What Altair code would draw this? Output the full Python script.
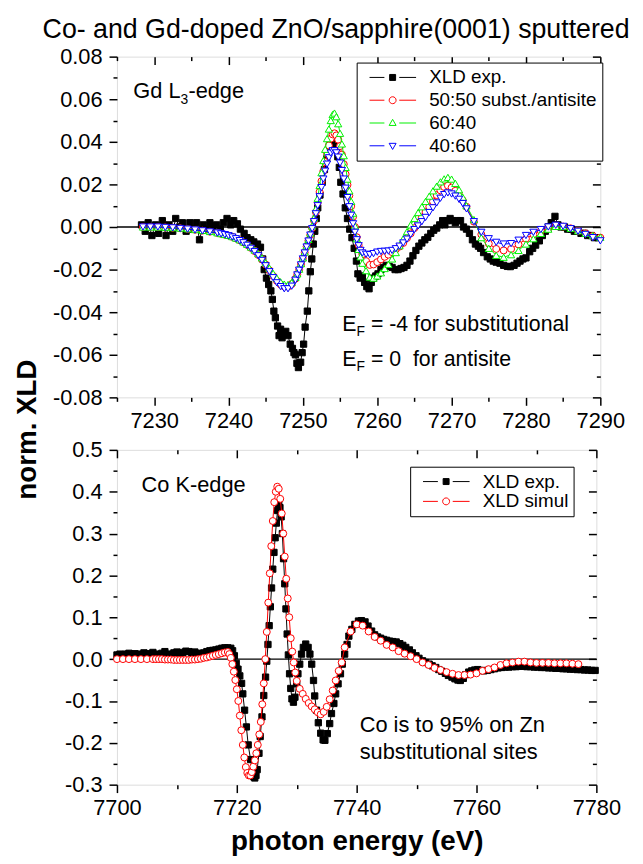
import altair as alt
import pandas as pd

FONT = "Liberation Sans"

# ---------------- Gd L3-edge (top panel) ----------------
gd_exp = [
    (7228.3, 0.001), (7228.8, -0.002), (7229.2, 0.002), (7229.7, -0.004), (7230.2, 0.001),
    (7230.6, -0.003), (7231.1, 0.003), (7231.6, -0.004), (7232.0, 0.001), (7232.5, -0.002),
    (7232.9, 0.004), (7233.4, 0.000), (7233.8, 0.002), (7234.3, -0.002), (7234.8, 0.002),
    (7235.2, -0.001), (7235.7, 0.002), (7236.1, -0.006), (7236.6, 0.001), (7237.0, -0.001),
    (7237.5, 0.002), (7237.9, 0.000), (7238.4, 0.001), (7238.9, -0.001), (7239.3, 0.002),
    (7239.8, 0.004), (7240.3, 0.001), (7240.7, 0.003), (7241.2, 0.0015), (7241.6, -0.001),
    (7242.1, -0.003), (7242.5, -0.005), (7243.0, -0.006), (7243.4, -0.007), (7243.9, -0.008),
    (7244.3, -0.0095), (7244.6, -0.015), (7244.8, -0.020), (7245.1, -0.024), (7245.4, -0.027),
    (7245.7, -0.030), (7245.9, -0.034), (7246.1, -0.0395), (7246.3, -0.0426), (7246.6, -0.0465),
    (7246.8, -0.051), (7247.0, -0.048), (7247.2, -0.052), (7247.5, -0.050), (7247.7, -0.049),
    (7248.0, -0.051), (7248.3, -0.055), (7248.6, -0.057), (7248.8, -0.059), (7249.0, -0.060),
    (7249.2, -0.064), (7249.4, -0.066), (7249.7, -0.0635), (7249.9, -0.059), (7250.1, -0.055),
    (7250.3, -0.047), (7250.6, -0.0395), (7250.8, -0.030), (7251.0, -0.021), (7251.2, -0.015),
    (7251.4, -0.008), (7251.6, -0.002), (7251.8, 0.004), (7252.0, 0.009), (7252.3, 0.015),
    (7252.6, 0.021), (7252.9, 0.027), (7253.2, 0.032), (7253.5, 0.036), (7253.8, 0.039),
    (7254.1, 0.040), (7254.4, 0.038), (7254.7, 0.033), (7254.9, 0.028), (7255.1, 0.021),
    (7255.4, 0.0155), (7255.7, 0.009), (7256.0, 0.004), (7256.3, -0.001), (7256.6, -0.005),
    (7256.9, -0.010), (7257.2, -0.016), (7257.4, -0.022), (7257.7, -0.024), (7258.0, -0.023),
    (7258.3, -0.026), (7258.6, -0.028), (7258.9, -0.029), (7259.2, -0.026), (7259.5, -0.024),
    (7259.8, -0.023), (7260.1, -0.022), (7260.5, -0.020), (7260.8, -0.019), (7261.2, -0.018),
    (7261.6, -0.0185), (7262.0, -0.019), (7262.4, -0.020), (7262.8, -0.020), (7263.2, -0.0195),
    (7263.6, -0.019), (7264.0, -0.018), (7264.4, -0.016), (7264.8, -0.0135), (7265.2, -0.011),
    (7265.6, -0.009), (7266.0, -0.0075), (7266.4, -0.006), (7266.8, -0.0048), (7267.2, -0.003),
    (7267.6, -0.0015), (7268.0, -0.0005), (7268.4, 0.001), (7268.8, 0.003), (7269.1, 0.001),
    (7269.4, 0.003), (7269.8, 0.004), (7270.1, 0.003), (7270.5, 0.002), (7270.8, 0.003),
    (7271.2, 0.003), (7271.6, 0.000), (7272.0, -0.001), (7272.4, -0.003), (7272.8, -0.006),
    (7273.2, -0.008), (7273.6, -0.009), (7273.9, -0.010), (7274.3, -0.012), (7274.8, -0.014),
    (7275.2, -0.015), (7275.6, -0.016), (7276.0, -0.0165), (7276.5, -0.017), (7277.0, -0.018),
    (7277.5, -0.0185), (7277.9, -0.0186), (7278.4, -0.018), (7278.8, -0.017), (7279.2, -0.016),
    (7279.6, -0.015), (7280.0, -0.0145), (7280.5, -0.0116), (7280.9, -0.010), (7281.3, -0.0085),
    (7281.8, -0.0065), (7282.2, -0.004), (7282.6, -0.002), (7283.0, 0.000), (7283.4, 0.002),
    (7283.9, 0.005), (7284.3, 0.001), (7284.7, 0.000), (7285.2, 0.000), (7285.6, -0.001),
    (7286.1, -0.001), (7286.5, -0.002), (7287.0, -0.002), (7287.4, -0.003), (7287.9, -0.003),
    (7288.3, -0.004), (7288.8, -0.004), (7289.2, -0.005), (7289.7, -0.005),
]

gd_sim_x = [
    7228.5, 7229.5, 7230.5, 7231.5, 7232.5, 7233.5, 7234.5, 7235.5, 7236.5, 7237.5, 7238.5,
    7239.0, 7239.5, 7240.0, 7240.5, 7241.0, 7241.5, 7242.0, 7242.5, 7243.0, 7243.5, 7244.0,
    7244.5, 7245.0, 7245.5, 7246.0, 7246.5, 7247.0, 7247.5, 7248.0, 7248.5, 7249.0,
    7249.25, 7249.5, 7249.75, 7250.0, 7250.25, 7250.5, 7250.75, 7251.0, 7251.25, 7251.5,
    7251.75, 7252.0, 7252.25, 7252.5, 7252.75, 7253.0, 7253.25, 7253.5, 7253.75, 7254.0,
    7254.25, 7254.5, 7254.75, 7255.0, 7255.25, 7255.5, 7255.75, 7256.0, 7256.25, 7256.5,
    7256.75, 7257.0, 7257.25, 7257.5, 7257.75, 7258.0,
    7258.5, 7259.0, 7259.5, 7260.0, 7260.5, 7261.0, 7261.5, 7262.0, 7262.5, 7263.0, 7263.5,
    7264.0, 7264.5, 7265.0, 7265.5, 7266.0, 7266.5, 7267.0, 7267.5, 7268.0, 7268.5, 7269.0,
    7269.5, 7270.0, 7270.5, 7271.0, 7271.5, 7272.0,
    7273, 7274, 7275, 7276, 7277, 7278, 7279, 7280, 7281, 7282, 7283, 7284, 7285, 7286,
    7287, 7288, 7289, 7290,
]

gd_sim_5050 = [
    0.0, 0.0, 0.0, -0.0002, -0.0004, -0.0006, -0.0009, -0.0013, -0.0017, -0.0022, -0.0028,
    -0.0032, -0.0036, -0.0040, -0.0046, -0.0054, -0.0062, -0.0072, -0.0084, -0.0098, -0.0113,
    -0.0131, -0.0152, -0.0176, -0.0203, -0.0230, -0.0253, -0.0270, -0.0280, -0.0280, -0.0268, -0.0243,
    -0.0222, -0.0200, -0.0175, -0.0148, -0.0120, -0.0092, -0.0064, -0.0036, -0.0005, 0.0030,
    0.0070, 0.0115, 0.0165, 0.0215, 0.0262, 0.0305, 0.0345, 0.0383, 0.0415, 0.0435,
    0.0440, 0.0430, 0.0410, 0.0380, 0.0340, 0.0295, 0.0248, 0.0198, 0.0148, 0.0098,
    0.0048, 0.0000, -0.0048, -0.0085, -0.0108, -0.0128,
    -0.0160, -0.0178, -0.0176, -0.0165, -0.0152, -0.0140, -0.0130, -0.0118, -0.0105, -0.0092, -0.0075,
    -0.0052, -0.0030, -0.0005, 0.0020, 0.0045, 0.0070, 0.0095, 0.0120, 0.0150, 0.0172, 0.0188,
    0.0194, 0.0185, 0.0170, 0.0150, 0.0125, 0.0095,
    0.0025, -0.0035, -0.0078, -0.0103, -0.0110, -0.0103, -0.0082, -0.0055, -0.0035, -0.0018,
    -0.0005, 0.0005, 0.0002, -0.0006, -0.0018, -0.0030, -0.0042, -0.0050,
]

gd_sim_6040 = [
    0.0, 0.0, 0.0, -0.0001, -0.0003, -0.0005, -0.0008, -0.0012, -0.0016, -0.0021, -0.0027,
    -0.0031, -0.0035, -0.0039, -0.0045, -0.0052, -0.0060, -0.0070, -0.0081, -0.0094, -0.0108,
    -0.0125, -0.0145, -0.0168, -0.0193, -0.0218, -0.0240, -0.0257, -0.0268, -0.0270, -0.0260, -0.0237,
    -0.0220, -0.0198, -0.0172, -0.0145, -0.0117, -0.0088, -0.0058, -0.0028, 0.0005, 0.0042,
    0.0085, 0.0135, 0.0195, 0.0255, 0.0312, 0.0365, 0.0415, 0.0460, 0.0500, 0.0528,
    0.0535, 0.0518, 0.0485, 0.0440, 0.0390, 0.0335, 0.0280, 0.0225, 0.0170, 0.0120,
    0.0065, 0.0005, -0.0055, -0.0105, -0.0140, -0.0170,
    -0.0205, -0.0235, -0.0240, -0.0230, -0.0215, -0.0195, -0.0175, -0.0150, -0.0120, -0.0088, -0.0055,
    -0.0022, 0.0010, 0.0040, 0.0068, 0.0095, 0.0120, 0.0145, 0.0170, 0.0192, 0.0212, 0.0226,
    0.0233, 0.0225, 0.0205, 0.0175, 0.0140, 0.0100,
    0.0035, -0.0050, -0.0100, -0.0133, -0.0142, -0.0130, -0.0110, -0.0080, -0.0055, -0.0030,
    -0.0010, 0.0003, 0.0002, -0.0006, -0.0018, -0.0030, -0.0040, -0.0048,
]

gd_sim_4060 = [
    0.0, 0.0, 0.0, -0.0002, -0.0004, -0.0007, -0.0010, -0.0014, -0.0018, -0.0023, -0.0028,
    -0.0032, -0.0036, -0.0041, -0.0047, -0.0055, -0.0064, -0.0074, -0.0086, -0.0100, -0.0116,
    -0.0135, -0.0157, -0.0182, -0.0210, -0.0238, -0.0262, -0.0280, -0.0290, -0.0290, -0.0278, -0.0250,
    -0.0225, -0.0203, -0.0178, -0.0150, -0.0122, -0.0094, -0.0066, -0.0038, -0.0008, 0.0025,
    0.0062, 0.0100, 0.0142, 0.0185, 0.0225, 0.0262, 0.0295, 0.0325, 0.0347, 0.0358,
    0.0358, 0.0348, 0.0328, 0.0300, 0.0265, 0.0225, 0.0182, 0.0138, 0.0095, 0.0055,
    0.0015, -0.0025, -0.0060, -0.0088, -0.0110, -0.0122,
    -0.0128, -0.0130, -0.0125, -0.0118, -0.0115, -0.0114, -0.0113, -0.0110, -0.0102, -0.0090, -0.0075,
    -0.0057, -0.0035, -0.0012, 0.0005, 0.0025, 0.0045, 0.0068, 0.0090, 0.0113, 0.0135, 0.0152,
    0.0160, 0.0155, 0.0145, 0.0130, 0.0110, 0.0085,
    0.0025, -0.0025, -0.0055, -0.0072, -0.0080, -0.0078, -0.0062, -0.0040, -0.0025, -0.0012,
    0.0000, 0.0008, 0.0003, -0.0008, -0.0020, -0.0035, -0.0050, -0.0065,
]

gd_series = ["XLD exp.", "50:50 subst./antisite", "60:40", "40:60"]

# ---------------- Co K-edge (bottom panel) ----------------
co_exp = [
    (7700.0, 0.010), (7700.5, 0.012), (7701.0, 0.008), (7701.5, 0.012), (7702.0, 0.014),
    (7702.5, 0.010), (7703.0, 0.013), (7703.5, 0.009), (7704.0, 0.012), (7704.5, 0.015),
    (7705.0, 0.011), (7705.5, 0.013), (7706.0, 0.016), (7706.5, 0.012), (7707.0, 0.010),
    (7707.5, 0.014), (7708.0, 0.018), (7708.5, 0.012), (7709.0, 0.011), (7709.5, 0.015),
    (7710.0, 0.017), (7710.5, 0.013), (7711.0, 0.016), (7711.5, 0.019), (7712.0, 0.018),
    (7712.5, 0.015), (7713.0, 0.017), (7713.5, 0.014), (7714.0, 0.012), (7714.5, 0.015),
    (7715.0, 0.018), (7715.5, 0.020), (7716.0, 0.021), (7716.5, 0.022), (7717.0, 0.024),
    (7717.5, 0.026), (7718.0, 0.027), (7718.5, 0.027), (7719.0, 0.026), (7719.3, 0.020),
    (7719.6, 0.008), (7719.9, -0.010), (7720.2, -0.024), (7720.5, -0.040), (7720.8, -0.058),
    (7721.0, -0.083), (7721.3, -0.122), (7721.6, -0.162), (7721.9, -0.205), (7722.3, -0.240),
    (7722.6, -0.270), (7722.8, -0.281), (7723.0, -0.284), (7723.2, -0.278), (7723.4, -0.264),
    (7723.7, -0.225), (7723.9, -0.185), (7724.2, -0.138), (7724.5, -0.087), (7724.8, -0.043),
    (7725.0, -0.005), (7725.2, 0.035), (7725.4, 0.080), (7725.6, 0.125), (7725.8, 0.170),
    (7726.0, 0.215), (7726.2, 0.255), (7726.4, 0.290), (7726.6, 0.325), (7726.8, 0.355),
    (7727.0, 0.371), (7727.2, 0.362), (7727.4, 0.340), (7727.6, 0.300), (7727.8, 0.240),
    (7728.0, 0.180), (7728.2, 0.120), (7728.4, 0.060), (7728.6, 0.010), (7728.8, -0.035),
    (7729.0, -0.070), (7729.2, -0.095), (7729.45, -0.103), (7729.7, -0.091), (7730.0, -0.059),
    (7730.2, -0.035), (7730.5, -0.012), (7730.8, 0.012), (7731.1, 0.028), (7731.5, 0.036),
    (7731.9, 0.028), (7732.2, 0.012), (7732.5, -0.012), (7732.8, -0.051), (7733.0, -0.088),
    (7733.3, -0.122), (7733.6, -0.152), (7734.0, -0.177), (7734.4, -0.193), (7734.7, -0.194),
    (7735.1, -0.178), (7735.5, -0.154), (7735.8, -0.130), (7736.2, -0.106), (7736.5, -0.083),
    (7736.9, -0.059), (7737.3, -0.035), (7737.6, -0.012), (7738.0, 0.012), (7738.4, 0.035),
    (7738.7, 0.055), (7739.2, 0.071), (7739.7, 0.083), (7740.3, 0.091), (7740.8, 0.092),
    (7741.4, 0.089), (7741.9, 0.079), (7742.5, 0.067), (7743.0, 0.058), (7743.5, 0.053),
    (7744.0, 0.050), (7744.5, 0.047), (7745.0, 0.045), (7745.5, 0.043), (7746.0, 0.042),
    (7746.6, 0.041), (7747.2, 0.037), (7747.7, 0.033), (7748.2, 0.028), (7748.8, 0.022),
    (7749.3, 0.015), (7749.9, 0.008), (7750.4, 0.002), (7751.0, -0.004), (7751.5, -0.008),
    (7752.1, -0.012), (7752.6, -0.016), (7753.2, -0.020), (7753.7, -0.025), (7754.2, -0.029),
    (7754.8, -0.034), (7755.3, -0.039), (7755.9, -0.043), (7756.4, -0.047), (7756.9, -0.050),
    (7757.3, -0.051), (7757.8, -0.046), (7758.2, -0.037), (7758.7, -0.031), (7759.2, -0.028),
    (7759.7, -0.026), (7760.2, -0.025), (7760.7, -0.027), (7761.2, -0.028), (7761.8, -0.027),
    (7762.4, -0.025), (7763.0, -0.023), (7763.6, -0.021), (7764.2, -0.020), (7764.8, -0.019),
    (7765.4, -0.019), (7766.0, -0.018), (7766.6, -0.018), (7767.2, -0.017), (7767.8, -0.017),
    (7768.4, -0.018), (7769.0, -0.018), (7769.6, -0.019), (7770.2, -0.019), (7770.8, -0.020),
    (7771.4, -0.020), (7772.0, -0.021), (7772.6, -0.021), (7773.2, -0.022), (7773.8, -0.022),
    (7774.4, -0.023), (7775.0, -0.023), (7775.6, -0.024), (7776.2, -0.024), (7776.8, -0.025),
    (7777.4, -0.025), (7778.0, -0.026), (7778.6, -0.026), (7779.2, -0.027), (7779.8, -0.027),
]

co_sim_x = [
    7700, 7701, 7702, 7703, 7704, 7705, 7706,
    7706.5, 7707.0, 7707.5, 7708.0, 7708.5, 7709.0, 7709.5, 7710.0, 7710.5, 7711.0, 7711.5,
    7712.0, 7712.5, 7713.0, 7713.5, 7714.0, 7714.5, 7715.0, 7715.5, 7716.0, 7716.5, 7717.0,
    7717.5, 7718.0, 7718.5,
    7718.75, 7719.0, 7719.25, 7719.5, 7719.75, 7720.0, 7720.25, 7720.5, 7720.75, 7721.0,
    7721.25, 7721.5, 7721.75, 7722.0, 7722.25, 7722.5, 7722.75, 7723.0, 7723.25, 7723.5,
    7723.75, 7724.0, 7724.25, 7724.5, 7724.75, 7725.0, 7725.25, 7725.5, 7725.75, 7726.0,
    7726.25, 7726.5, 7726.75, 7727.0, 7727.25, 7727.5, 7727.75, 7728.0, 7728.25, 7728.5,
    7728.75, 7729.0, 7729.25, 7729.5, 7729.75, 7730.0,
    7730.5, 7731.0, 7731.5, 7732.0, 7732.5, 7733.0, 7733.5, 7734.0, 7734.5, 7735.0, 7735.5,
    7736.0, 7736.5, 7737.0, 7737.5,
    7738, 7739, 7740, 7741, 7742, 7743, 7744, 7745, 7746, 7747, 7748, 7749, 7750, 7751,
    7752, 7753, 7754, 7755, 7756, 7757, 7758, 7759, 7760, 7761, 7762, 7763, 7764, 7765,
    7766, 7767, 7768, 7769, 7770, 7771, 7772, 7773, 7774, 7775, 7776, 7777,
]

co_sim_y = [
    0.0, 0.0, 0.0, 0.0, 0.0, 0.0, 0.0,
    0.0, 0.0, 0.0, -0.001, -0.001, -0.001, -0.002, -0.002, -0.002, -0.002, -0.002,
    -0.002, -0.001, -0.001, 0.0, 0.001, 0.003, 0.004, 0.006, 0.008, 0.010, 0.012,
    0.014, 0.016, 0.017,
    0.012, 0.003, -0.012, -0.030, -0.050, -0.072, -0.100, -0.135, -0.170, -0.205,
    -0.235, -0.258, -0.272, -0.278, -0.278, -0.270, -0.257, -0.242, -0.225, -0.205,
    -0.180, -0.150, -0.108, -0.058, 0.000, 0.065, 0.135, 0.205, 0.270, 0.330,
    0.375, 0.400, 0.412, 0.407, 0.383, 0.348, 0.300, 0.245, 0.192, 0.145,
    0.100, 0.050, 0.018, -0.008, -0.032, -0.052,
    -0.071, -0.083, -0.095, -0.105, -0.113, -0.120, -0.127, -0.132, -0.126, -0.114, -0.096,
    -0.075, -0.051, -0.028, -0.008,
    0.028, 0.066, 0.083, 0.080, 0.066, 0.053, 0.044, 0.034, 0.028, 0.019, 0.013, 0.007,
    0.000, -0.008, -0.014, -0.021, -0.026, -0.031, -0.035, -0.038, -0.038, -0.037, -0.034,
    -0.028, -0.024, -0.020, -0.014, -0.010, -0.008, -0.006, -0.006, -0.008, -0.009, -0.009,
    -0.009, -0.010, -0.010, -0.010, -0.011, -0.012,
]

co_series = ["XLD exp.", "XLD simul"]

# ---------------- axes ticks ----------------
gd_x_major = [7230, 7240, 7250, 7260, 7270, 7280, 7290]
gd_x_minor = [7225, 7235, 7245, 7255, 7265, 7275, 7285]
gd_y_major = [-0.08, -0.06, -0.04, -0.02, 0.0, 0.02, 0.04, 0.06, 0.08]
gd_y_minor = [-0.07, -0.05, -0.03, -0.01, 0.01, 0.03, 0.05, 0.07]
co_x_major = [7700, 7720, 7740, 7760, 7780]
co_x_minor = [7710, 7730, 7750, 7770]
co_y_major = [-0.3, -0.2, -0.1, 0.0, 0.1, 0.2, 0.3, 0.4, 0.5]
co_y_minor = [-0.25, -0.15, -0.05, 0.05, 0.15, 0.25, 0.35, 0.45]

# ---------------- data frames ----------------
gd_exp_df = pd.DataFrame(gd_exp, columns=["x", "y"])
gd_5050_df = pd.DataFrame({"x": gd_sim_x, "y": gd_sim_5050})
gd_6040_df = pd.DataFrame({"x": gd_sim_x, "y": gd_sim_6040})
gd_4060_df = pd.DataFrame({"x": gd_sim_x, "y": gd_sim_4060})
co_exp_df = pd.DataFrame(co_exp, columns=["x", "y"])
co_sim_df = pd.DataFrame({"x": co_sim_x, "y": co_sim_y})

ONE = alt.Data(values=[{}])
MINUS = "\u2212"
NBSP = "\u00a0"

RED, GREEN, BLUE = "#FF0000", "#00F000", "#0000FF"

# legend symbols: line - marker - line, in unit coordinates
LINE_PATH = "M-1,0H0.579M2.158,0H3.947"
SQUARE_PATH = LINE_PATH + "M1.137,-0.316H1.769V0.316H1.137Z"
CIRCLE_PATH = LINE_PATH + "M1.085,0A0.368,0.368,0,1,0,1.821,0A0.368,0.368,0,1,0,1.085,0Z"
TUP_PATH = LINE_PATH + "M1.453,-0.39L1.821,0.26L1.085,0.26Z"
TDN_PATH = LINE_PATH + "M1.453,0.39L1.821,-0.26L1.085,-0.26Z"


def axis_layers(df, xs, ys, xmaj, xmin, ymaj, ymin, yfmt, xtitle=None, ytitle=None):
    base = alt.Chart(df).mark_point(opacity=0)
    tick = dict(grid=False, domain=False, tickColor="black", tickWidth=1.5)
    lab = dict(labelFont=FONT, labelFontSize=22, labelColor="black", labelFlush=False)
    bx = dict(orient="bottom", values=xmaj, format="d", tickSize=8, labelPadding=5, **tick, **lab)
    if xtitle:
        bx.update(xtitle)
    else:
        bx["title"] = None
    ly = dict(orient="left", values=ymaj, tickSize=8, labelPadding=7,
              labelExpr=f"replace(format(datum.value, '{yfmt}'), '{MINUS}', '-')", **tick, **lab)
    if ytitle:
        ly.update(ytitle)
    else:
        ly["title"] = None
    l1 = base.encode(x=alt.X("x:Q", scale=xs, axis=alt.Axis(**bx)),
                     y=alt.Y("y:Q", scale=ys, axis=alt.Axis(**ly)))
    l2 = base.encode(
        x=alt.X("x:Q", scale=xs, axis=alt.Axis(orient="bottom", values=xmin, tickSize=4, labels=False, title=None, **tick)),
        y=alt.Y("y:Q", scale=ys, axis=alt.Axis(orient="left", values=ymin, tickSize=4, labels=False, title=None, **tick)))
    l3 = base.encode(
        x=alt.X("x:Q", scale=xs, axis=alt.Axis(orient="top", values=xmaj, tickSize=8, offset=-8, labels=False, title=None, **tick)),
        y=alt.Y("y:Q", scale=ys, axis=alt.Axis(orient="right", values=ymaj, tickSize=8, offset=-8, labels=False, title=None, **tick)))
    l4 = base.encode(
        x=alt.X("x:Q", scale=xs, axis=alt.Axis(orient="top", values=xmin, tickSize=4, offset=-4, labels=False, title=None, **tick)),
        y=alt.Y("y:Q", scale=ys, axis=alt.Axis(orient="right", values=ymin, tickSize=4, offset=-4, labels=False, title=None, **tick)))
    return [l1, l2, l3, l4]


def series(df, xs, ys, color, shape, size, fill):
    enc = dict(x=alt.X("x:Q", scale=xs, axis=None), y=alt.Y("y:Q", scale=ys, axis=None))
    line = alt.Chart(df).mark_line(color=color, strokeWidth=1).encode(**enc)
    pts = alt.Chart(df).mark_point(shape=shape, size=size, filled=True, fill=fill, stroke=color,
                                   strokeWidth=1, opacity=1).encode(**enc)
    return [line, pts]


def zero_rule(ys):
    return alt.Chart(ONE).mark_rule(color="black", strokeWidth=1.5).encode(
        y=alt.YDatum(0, type="quantitative", scale=ys, axis=None))


def label(text, x, y, xs, ys, size=22, dx=0, dy=0):
    return alt.Chart(ONE).mark_text(text=text, align="left", baseline="alphabetic", font=FONT,
                                    fontSize=size, dx=dx, dy=dy, color="black").encode(
        x=alt.XDatum(x, type="quantitative", scale=xs, axis=None),
        y=alt.YDatum(y, type="quantitative", scale=ys, axis=None))


def legend_layer(names, strokes, fills, paths, lx, ly, row_pad):
    leg = alt.Legend(title=None, orient="none", legendX=lx, legendY=ly, labelFont=FONT,
                     labelFontSize=19, labelColor="black", symbolSize=361, symbolStrokeWidth=1,
                     padding=5, rowPadding=row_pad, strokeColor="black", fillColor="white",
                     symbolOffset=7.5, labelOffset=40.7, labelLimit=400)
    df = pd.DataFrame({"series": names})
    return alt.Chart(df).transform_filter("false").mark_point(size=361, strokeWidth=1, opacity=1).encode(
        stroke=alt.Stroke("series:N", scale=alt.Scale(domain=names, range=strokes), legend=leg),
        fill=alt.Fill("series:N", scale=alt.Scale(domain=names, range=fills), legend=leg),
        shape=alt.Shape("series:N", scale=alt.Scale(domain=names, range=paths), legend=leg))


# ---------------- top panel ----------------
gx = alt.Scale(domain=[7225, 7290], nice=False, zero=False)
gy = alt.Scale(domain=[-0.08, 0.08], nice=False, zero=False)

top_layers = axis_layers(
    gd_exp_df, gx, gy, gd_x_major, gd_x_minor, gd_y_major, gd_y_minor, ".2f",
    ytitle=dict(title="norm. XLD", titleFont=FONT, titleFontSize=28, titleFontWeight="bold",
                titleColor="black", titleX=-90, titleY=376, titleAngle=270,
                titleAlign="center", titleBaseline="middle"))
top_layers.append(zero_rule(gy))
top_layers += series(gd_exp_df, gx, gy, "black", "square", 40, "black")
top_layers += series(gd_5050_df, gx, gy, RED, "circle", 49, "white")
top_layers += series(gd_6040_df, gx, gy, GREEN, "triangle-up", 53, "white")
top_layers += series(gd_4060_df, gx, gy, BLUE, "triangle-down", 53, "white")
top_layers += [
    label("Gd L", 7227.2, 0.0605, gx, gy),
    label("3", 7227.2, 0.0605, gx, gy, size=14, dx=47.7, dy=5.5),
    label("-edge", 7227.2, 0.0605, gx, gy, dx=55.6),
    label("E", 7255.3, -0.0488, gx, gy, size=21.5),
    label("F", 7255.3, -0.0488, gx, gy, size=14, dx=14.3, dy=5),
    label("= -4 for substitutional", 7255.3, -0.0488, gx, gy, size=21.5, dx=28.9),
    label("E", 7255.3, -0.0651, gx, gy, size=21.5),
    label("F", 7255.3, -0.0651, gx, gy, size=14, dx=14.3, dy=5),
    label("= 0" + NBSP + NBSP + "for antisite", 7255.3, -0.0651, gx, gy, size=21.5, dx=28.9),
]
top_layers.append(legend_layer(gd_series, ["black", RED, GREEN, BLUE],
                               ["black", "white", "white", "white"],
                               [SQUARE_PATH, CIRCLE_PATH, TUP_PATH, TDN_PATH], 242, 6, 3))

top = alt.layer(*top_layers).properties(width=488, height=344).resolve_axis(
    x="independent", y="independent")

# ---------------- bottom panel ----------------
cx = alt.Scale(domain=[7700, 7780], nice=False, zero=False)
cy = alt.Scale(domain=[-0.3, 0.5], nice=False, zero=False)

bot_layers = axis_layers(
    co_exp_df, cx, cy, co_x_major, co_x_minor, co_y_major, co_y_minor, ".1f",
    xtitle=dict(title="photon energy (eV)", titleFont=FONT, titleFontSize=28, titleFontWeight="bold",
                titleColor="black", titleY=57, titleBaseline="middle"))
bot_layers.append(zero_rule(cy))
bot_layers += series(co_exp_df, cx, cy, "black", "square", 40, "black")
bot_layers += series(co_sim_df, cx, cy, RED, "circle", 49, "white")
bot_layers += [
    label("Co K-edge", 7704.1, 0.399, cx, cy),
    label("Co is to 95% on Zn", 7740.5, -0.1746, cx, cy),
    label("substitutional sites", 7740.5, -0.2378, cx, cy),
]
bot_layers.append(legend_layer(co_series, ["black", RED], ["black", "white"],
                               [SQUARE_PATH, CIRCLE_PATH], 296, 17, 0))

bottom = alt.layer(*bot_layers).properties(width=484, height=338).resolve_axis(
    x="independent", y="independent")

chart = alt.vconcat(
    top, bottom, spacing=53, bounds="flush",
    title=alt.TitleParams("Co- and Gd-doped ZnO/sapphire(0001) sputtered", font=FONT, fontSize=27,
                          fontWeight="normal", color="black", anchor="middle", frame="bounds",
                          dx=17, offset=1),
    padding={"left": 5, "top": 4, "right": 5, "bottom": 5},
).resolve_scale(
    stroke="independent", fill="independent", shape="independent"
).configure_view(stroke="black", strokeWidth=2).configure(font=FONT)

chart.save("out.html", embed_options={"renderer": "svg", "actions": False})
